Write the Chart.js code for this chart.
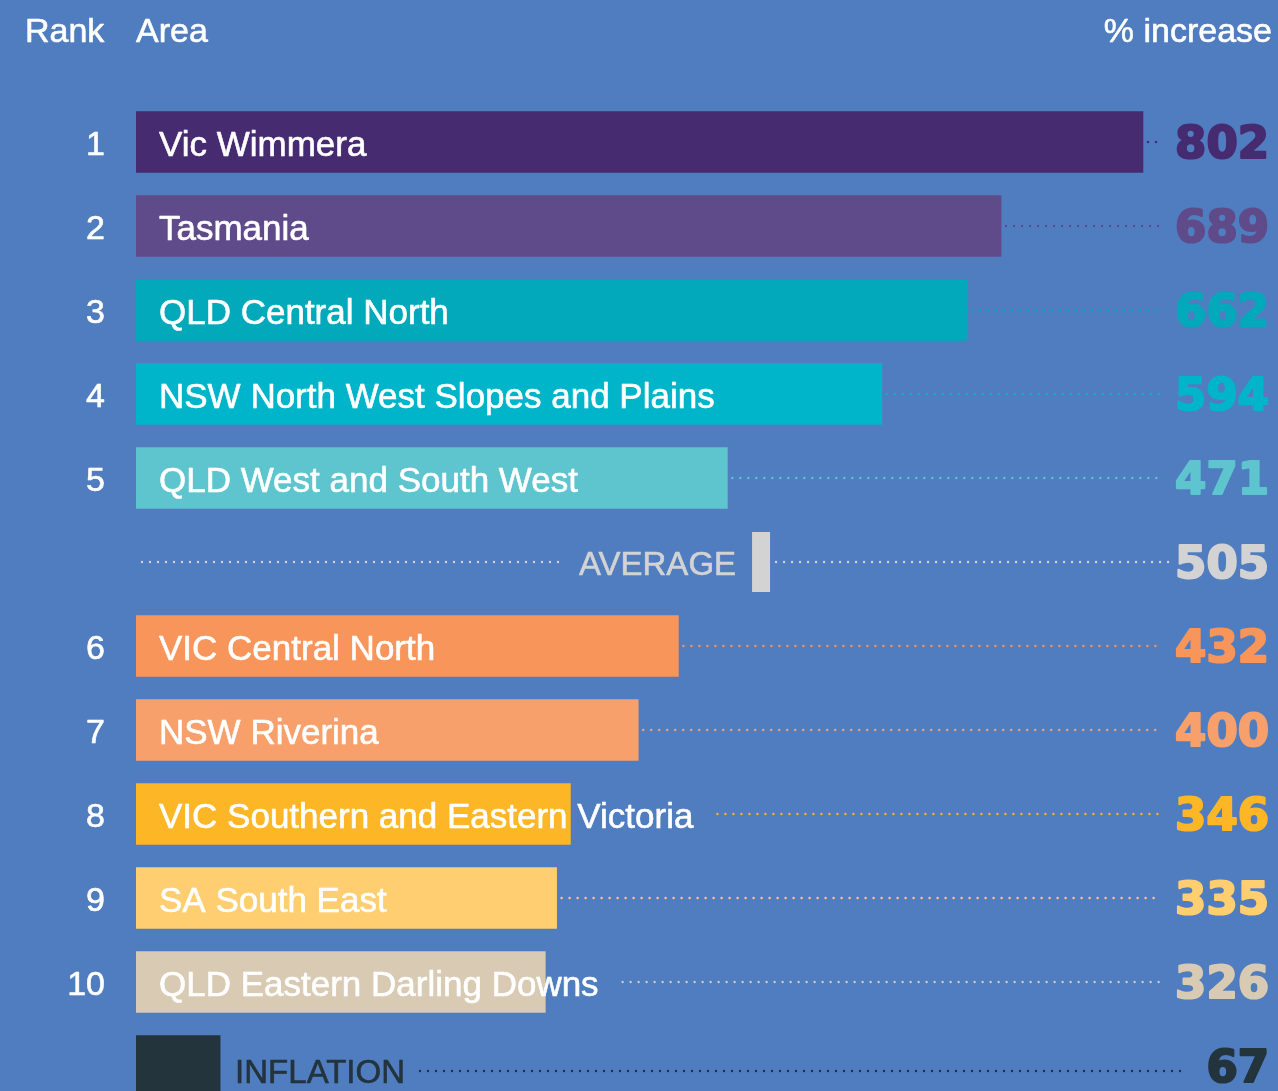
<!DOCTYPE html>
<html>
<head>
<meta charset="utf-8">
<script src="https://cdn.jsdelivr.net/npm/chart.js@4/dist/chart.umd.min.js"></script>
<style>
  html, body { margin: 0; padding: 0; width: 1278px; height: 1091px; overflow: hidden; background: #4f7dc0; }
  canvas { display: block; }
</style>
</head>
<body>
<canvas id="c" width="1278" height="1120"></canvas>
<script>
// ---- data ----
const headerRank = 'Rank';
const headerArea = 'Area';
const headerValue = '% increase';
const ranks = ['1', '2', '3', '4', '5', '6', '7', '8', '9', '10'];
const areas = [
  'Vic Wimmera',
  'Tasmania',
  'QLD Central North',
  'NSW North West Slopes and Plains',
  'QLD West and South West',
  'VIC Central North',
  'NSW Riverina',
  'VIC Southern and Eastern Victoria',
  'SA South East',
  'QLD Eastern Darling Downs'
];
const increases = [802, 689, 662, 594, 471, 432, 400, 346, 335, 326];
const barColors = ['#462b71', '#604b8a', '#01a9bb', '#00b5c9', '#5ec5cf',
                   '#f7955b', '#f8a06c', '#fdb626', '#fece70', '#d8cab3'];
const averageLabel = 'AVERAGE';
const averageValue = 505;
const averageColor = '#d3d3d3';
const inflationLabel = 'INFLATION';
const inflationValue = 67;
const inflationColor = '#23343d';

// ---- build rows (average after rank 5, inflation last) ----
const rowLabels = [...areas.slice(0, 5), averageLabel, ...areas.slice(5), inflationLabel];
const rowValues = [...increases.slice(0, 5), null, ...increases.slice(5), inflationValue];
const rowColors = [...barColors.slice(0, 5), averageColor, ...barColors.slice(5), inflationColor];
const rowRanks = [...ranks.slice(0, 5), '', ...ranks.slice(5), ''];
const AVG_INDEX = 5;
const INF_INDEX = rowLabels.length - 1;

const LABEL_FONT = '35px "Liberation Sans", Arial, sans-serif';
const SMALL_FONT = '33px "Liberation Sans", Arial, sans-serif';
const HEAD_FONT = '34px "Liberation Sans", Arial, sans-serif';
const VALUE_FONT = 'bold 45px "DejaVu Sans", sans-serif';

function dots(ctx, x1, x2, y, color) {
  ctx.fillStyle = color;
  for (let x = x1; x <= x2; x += 8) {
    ctx.beginPath();
    ctx.arc(x, y, 1.2, 0, Math.PI * 2);
    ctx.fill();
  }
}

function heavyText(ctx, text, x, y, color, stroke) {
  ctx.fillStyle = color;
  ctx.strokeStyle = color;
  ctx.lineWidth = stroke;
  ctx.lineJoin = 'round';
  ctx.fillText(text, x, y);
  if (stroke > 0) ctx.strokeText(text, x, y);
}

const overlay = {
  id: 'overlay',
  afterDatasetsDraw(chart) {
    const ctx = chart.ctx;
    const xs = chart.scales.x;
    const ys = chart.scales.y;
    const x0 = xs.getPixelForValue(0);
    ctx.save();

    // header
    ctx.font = HEAD_FONT;
    ctx.textBaseline = 'alphabetic';
    ctx.textAlign = 'left';
    heavyText(ctx, headerRank, 25, 42, '#ffffff', 0.6);
    heavyText(ctx, headerArea, x0, 42, '#ffffff', 0.6);
    ctx.textAlign = 'right';
    heavyText(ctx, headerValue, 1272, 42, '#ffffff', 0.6);

    const valueRight = 1269;
    rowLabels.forEach((label, i) => {
      const yc = ys.getPixelForValue(i);
      const color = rowColors[i];

      // value
      ctx.font = VALUE_FONT;
      ctx.textAlign = 'right';
      const val = i === AVG_INDEX ? averageValue : rowValues[i];
      const valStr = String(val);
      heavyText(ctx, valStr, valueRight, yc + 16, color, 2.2);
      const valLeft = valueRight - ctx.measureText(valStr).width - 1;

      if (i === AVG_INDEX) {
        const mx = xs.getPixelForValue(averageValue);
        ctx.font = SMALL_FONT;
        ctx.textAlign = 'right';
        const tRight = mx - 18 - 16;
        heavyText(ctx, label, tRight, yc + 13, averageColor, 0.6);
        const tLeft = tRight - ctx.measureText(label).width;
        dots(ctx, x0 + 6, tLeft - 17, yc, averageColor);
        ctx.fillStyle = averageColor;
        ctx.fillRect(mx - 18, yc - 30, 18, 60);
        dots(ctx, mx + 6, valLeft - 6, yc, averageColor);
        return;
      }

      const barEnd = xs.getPixelForValue(rowValues[i]);

      if (i === INF_INDEX) {
        ctx.font = SMALL_FONT;
        ctx.textAlign = 'left';
        heavyText(ctx, label, barEnd + 15, yc + 17, inflationColor, 0.6);
        const tEnd = barEnd + 15 + ctx.measureText(label).width;
        dots(ctx, tEnd + 15, valLeft - 18, yc + 5, inflationColor);
        return;
      }

      // rank
      ctx.font = HEAD_FONT;
      ctx.textAlign = 'right';
      heavyText(ctx, rowRanks[i], 105, yc + 13, '#ffffff', 0.6);

      // label
      ctx.font = LABEL_FONT;
      ctx.textAlign = 'left';
      const lx = x0 + 23;
      heavyText(ctx, label, lx, yc + 14, '#ffffff', 0.6);
      const labelEnd = lx + ctx.measureText(label).width;

      const start = labelEnd > barEnd ? labelEnd + 24 : barEnd + 5;
      dots(ctx, start, valLeft - 13, yc, color);
    });
    ctx.restore();
  }
};

new Chart(document.getElementById('c'), {
  type: 'bar',
  data: {
    labels: rowLabels,
    datasets: [{
      data: rowValues,
      backgroundColor: rowColors,
      borderWidth: 0,
      barThickness: 61
    }]
  },
  options: {
    indexAxis: 'y',
    responsive: false,
    animation: false,
    devicePixelRatio: 1,
    layout: { padding: { left: 136, right: 12, top: 100, bottom: 12 } },
    plugins: { legend: { display: false }, tooltip: { enabled: false } },
    scales: {
      x: { display: false, min: 0, max: 900 },
      y: { display: false }
    }
  },
  plugins: [overlay]
});
</script>
</body>
</html>
